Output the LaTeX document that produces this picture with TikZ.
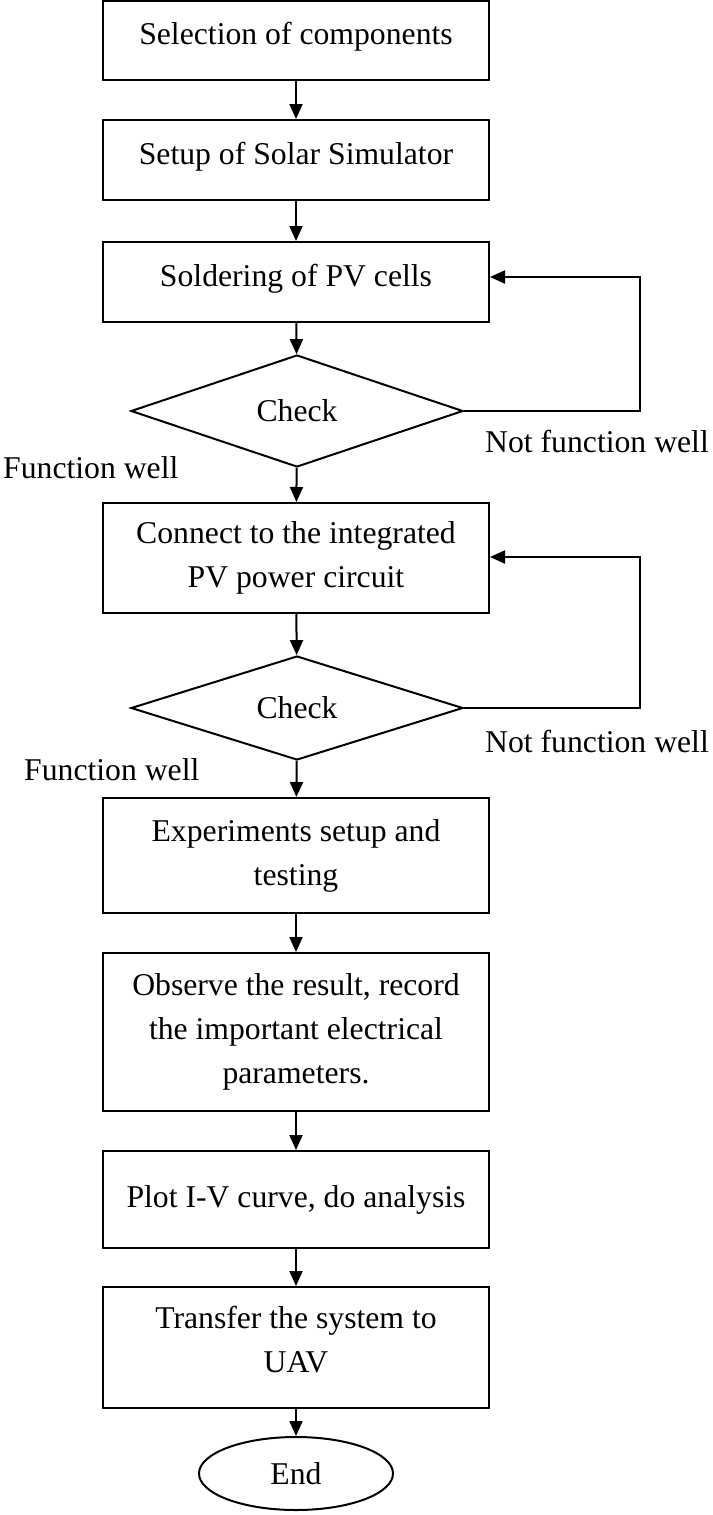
\documentclass[tikz,border=0pt]{standalone}
\usepackage{fontspec}
\setmainfont{Liberation Serif}
\usetikzlibrary{shapes.geometric,arrows.meta}
\begin{document}
\begin{tikzpicture}[x=1pt,y=-1pt,
  every node/.style={font=\fontsize{31.7}{44}\selectfont},
  box/.style={draw, line width=2pt, minimum width=386pt, inner sep=0pt, align=center},
  oneline/.style={text height=22pt, text depth=14pt},
  dec/.style={draw, diamond, line width=2pt, minimum width=332pt, inner sep=0pt},
  term/.style={draw, ellipse, line width=2pt, minimum width=194pt, minimum height=73pt, inner sep=0pt},
  arr/.style={line width=2pt, -{Triangle[length=15pt,width=13pt]}},
  lbl/.style={anchor=base west, inner sep=0pt}]
\useasboundingbox (0,0) rectangle (712,1515);
\node[box, oneline, minimum height=79pt] (b1) at (296,40.5) {Selection of components};
\node[box, oneline, minimum height=80pt] (b2) at (296,160) {Setup of Solar Simulator};
\node[box, oneline, minimum height=80pt] (b3) at (296,282) {Soldering of PV cells};
\node[dec, minimum height=112pt] (d1) at (297,411) {Check};
\node[box, minimum height=110pt] (b4) at (296,558) {Connect to the integrated\\PV power circuit};
\node[dec, minimum height=104pt] (d2) at (297,708) {Check};
\node[box, minimum height=115pt] (b5) at (296,855.5) {Experiments setup and\\testing};
\node[box, minimum height=158pt] (b6) at (296,1032) {Observe the result, record\\the important electrical\\parameters.};
\node[box, minimum height=97pt] (b7) at (296,1199.5) {Plot I-V curve, do analysis};
\node[box, text depth=16pt, minimum height=121pt] (b8) at (296,1347.5) {Transfer the system to\\UAV};
\node[term] (e) at (296,1473.5) {End};
\node[lbl] (l1) at (485,452) {Not function well};
\node[lbl] (l2) at (485,752) {Not function well};
\node[lbl] (l3) at (3,478) {Function well};
\node[lbl] (l4) at (24,780) {Function well};
\coordinate (c1) at (640,277);
\coordinate (c2) at (640,557);
\draw[arr] (b1) -- (b2);
\draw[arr] (b2) -- (b3);
\draw[arr] (b3) -- (d1);
\draw[arr] (d1) -- (b4);
\draw[arr] (b4) -- (d2);
\draw[arr] (d2) -- (b5);
\draw[arr] (b5) -- (b6);
\draw[arr] (b6) -- (b7);
\draw[arr] (b7) -- (b8);
\draw[arr] (b8) -- (e);
\draw[arr] (d1.east) -| (c1) -- (c1 -| b3.east);
\draw[arr] (d2.east) -| (c2) -- (c2 -| b4.east);
\end{tikzpicture}
\end{document}
